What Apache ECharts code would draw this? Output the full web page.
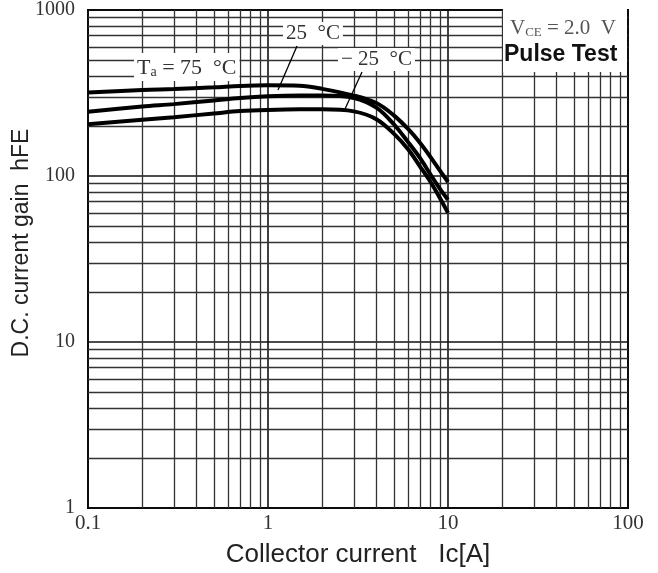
<!DOCTYPE html>
<html>
<head>
<meta charset="utf-8">
<script src="https://cdn.jsdelivr.net/npm/echarts@6/dist/echarts.min.js"></script>
<style>html,body{margin:0;padding:0;background:#fff;}#c{width:658px;height:573px;}</style>
</head>
<body>
<div id="c"></div>
<script>
// Collector current Ic [A]
var currents = [0.1, 0.2, 0.3, 0.5, 0.7, 1, 1.5, 2, 3, 4, 5, 6, 7, 8, 9, 10];
// hFE values per temperature
var hfe75  = [318, 330, 334, 342, 349, 352, 350, 335, 305, 275, 232, 192, 158, 130, 108, 92];
var hfe25  = [244, 262, 271, 285, 295, 302, 305, 305, 295, 258, 205, 160, 128, 102, 84, 72];
var hfeM25 = [205, 218, 226, 238, 246, 250, 252, 252, 245, 220, 180, 145, 114, 92, 74, 60];
var seriesNames = ['Ta=75 °C', '25 °C', '-25 °C'];
// tick labels
var xTickLabels = {0.1: '0.1', 1: '1', 10: '10', 100: '100'};
var yTickLabels = {1: '1', 10: '10', 100: '100', 1000: '1000'};
// minor grid positions
var gridX = [0.2,0.3,0.4,0.5,0.6,0.7,0.8,0.9, 2,3,4,5,6,7,8,9, 20,30,40,50,60,70,80,90];
var gridY = [2,3,4,5,6,7,8,9, 20,30,40,50,60,70,80,90, 200,300,400,500,600,700,800,900];

function pairs(xs, ys){ return xs.map(function(x,i){ return [x, ys[i]]; }); }

var chart = echarts.init(document.getElementById('c'), null, {renderer:'canvas'});
var minorLines = gridX.map(function(v){ return {xAxis: v}; })
  .concat(gridY.map(function(v){ return {yAxis: v}; }));

function curve(name, ys){
  return {
    name: name, type: 'line', data: pairs(currents, ys), smooth: 0.35,
    showSymbol: false, symbol: 'none', z: 5,
    lineStyle: {color: '#000', width: 4}
  };
}

var option = {
  backgroundColor: '#fff',
  animation: false,
  grid: {left: 88, right: 30, top: 8, bottom: 65, show: true, borderColor: '#000', borderWidth: 2, backgroundColor: 'transparent'},
  xAxis: {
    type: 'log', logBase: 10, min: 0.1, max: 100,
    name: 'Collector current   Ic[A]', nameLocation: 'middle', nameGap: 34,
    nameTextStyle: {fontFamily: 'Liberation Sans', fontSize: 26, color: '#222'},
    axisLine: {show: false}, axisTick: {show: false},
    axisLabel: {fontFamily: 'Liberation Serif', fontSize: 21, color: '#333', margin: 5,
      formatter: function(v){ var k = Math.round(Math.log10(v)); return xTickLabels[Math.pow(10,k)] || ''; }},
    splitLine: {show: true, lineStyle: {color: '#111', width: 1.6}}
  },
  yAxis: {
    type: 'log', logBase: 10, min: 1, max: 1000,
    axisLine: {show: false}, axisTick: {show: false},
    axisLabel: {fontFamily: 'Liberation Serif', fontSize: 20, color: '#333', margin: 13,
      formatter: function(v){ var k = Math.round(Math.log10(v)); return yTickLabels[Math.pow(10,k)] || ''; }},
    splitLine: {show: true, lineStyle: {color: '#111', width: 1.6}}
  },
  series: [
    {
      name: 'grid', type: 'line', data: [], z: 1, silent: true,
      markLine: {
        silent: true, symbol: ['none','none'], label: {show: false},
        lineStyle: {color: '#333', width: 1.3, type: 'solid'},
        emphasis: {disabled: true},
        data: minorLines, animation: false
      }
    },
    curve(seriesNames[0], hfe75),
    curve(seriesNames[1], hfe25),
    curve(seriesNames[2], hfeM25)
  ],
  graphic: [
    // y-axis title
    {type: 'text', z: 30, x: 22, y: 243, rotation: Math.PI/2,
      style: {text: 'D.C. current gain  hFE', font: '23px "Liberation Sans"', fill: '#222', align: 'center', verticalAlign: 'middle'}},
    // leader lines
    {type: 'line', z: 20, shape: {x1: 297, y1: 46, x2: 278, y2: 90}, style: {stroke: '#000', lineWidth: 1.3}},
    {type: 'line', z: 20, shape: {x1: 362, y1: 72, x2: 345, y2: 109}, style: {stroke: '#000', lineWidth: 1.3}},
    // label boxes
    {type: 'text', z: 30, x: 134, y: 53,
      style: {text: '{a|T}{s|a}{a| = 75  °C}', backgroundColor: '#fff', padding: [2,3,2,3],
        rich: {a: {fontFamily: 'Liberation Serif', fontSize: 22, fill: '#333', verticalAlign: 'bottom', lineHeight: 24},
               s: {fontFamily: 'Liberation Serif', fontSize: 14, fill: '#333', verticalAlign: 'bottom', lineHeight: 15}}}},
    {type: 'text', z: 30, x: 283, y: 22,
      style: {text: '25  °C', backgroundColor: '#fff', padding: [1,3,1,3], font: '21px "Liberation Serif"', fill: '#333'}},
    {type: 'text', z: 30, x: 338, y: 48,
      style: {text: '\u2212 25  °C', backgroundColor: '#fff', padding: [1,3,1,3], font: '21px "Liberation Serif"', fill: '#333'}},
    // condition box
    {type: 'rect', z: 30, shape: {x: 503, y: 9, width: 124, height: 63}, style: {fill: '#fff'}},
    {type: 'text', z: 31, x: 510, y: 15,
      style: {text: '{a|V}{s|CE}{a| = 2.0  V}',
        rich: {a: {fontFamily: 'Liberation Serif', fontSize: 21, fill: '#555', verticalAlign: 'bottom', lineHeight: 24},
               s: {fontFamily: 'Liberation Serif', fontSize: 13, fill: '#555', verticalAlign: 'bottom', lineHeight: 15}}}},
    {type: 'text', z: 31, x: 504, y: 43,
      style: {text: 'Pulse Test', font: 'bold 23px "Liberation Sans"', fill: '#111'}}
  ]
};
chart.setOption(option);
</script>
</body>
</html>
